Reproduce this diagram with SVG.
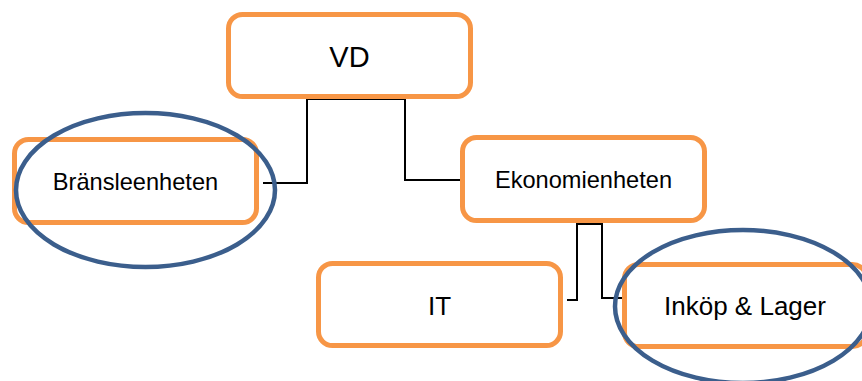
<svg xmlns="http://www.w3.org/2000/svg" width="862" height="381" viewBox="0 0 862 381">
<style>
.box{fill:#fff;stroke:#F79646;stroke-width:5}
.lbl{font-family:"Liberation Sans",Arial,sans-serif;fill:#000;text-anchor:middle}
.hl{fill:none;stroke:#3B5E8C;stroke-width:4.5}
.conn{fill:none;stroke:#000;stroke-width:2}
</style>
<rect width="862" height="381" fill="#fff"/>
<g id="connectors">
<polyline class="conn" points="263,183 307,183 307,99 405,99 405,180 462,180"/>
<polyline class="conn" points="567,300 577,300 577,224 602,224 602,298 624,298"/>
</g>
<g id="vd">
<rect class="box" x="228.5" y="14.5" width="242" height="82" rx="14"/>
<text class="lbl" x="349.5" y="66.5" font-size="29">VD</text>
</g>
<g id="bransleenheten">
<rect class="box" x="14.5" y="139.5" width="242" height="83" rx="14"/>
<text class="lbl" x="135.5" y="190" font-size="23.6">Bränsleenheten</text>
</g>
<g id="ekonomienheten">
<rect class="box" x="462.5" y="137.5" width="242" height="83" rx="14"/>
<text class="lbl" x="583.5" y="188" font-size="23.6">Ekonomienheten</text>
</g>
<g id="it">
<rect class="box" x="318.5" y="263.5" width="242" height="82" rx="14"/>
<text class="lbl" x="439.5" y="315" font-size="26">IT</text>
</g>
<g id="inkop">
<rect class="box" x="624.5" y="264.5" width="242" height="82" rx="14"/>
<text class="lbl" x="745" y="315" font-size="26">Inköp &amp; Lager</text>
</g>
<g id="highlights">
<ellipse class="hl" cx="145.5" cy="190" rx="129.5" ry="77"/>
<ellipse class="hl" cx="743" cy="306.5" rx="128" ry="76.5"/>
</g>
</svg>
